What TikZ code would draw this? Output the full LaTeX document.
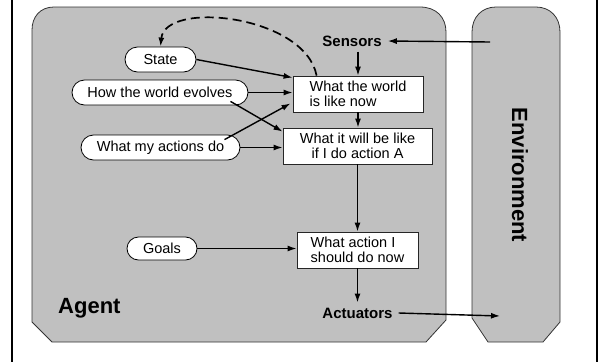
\documentclass[tikz,border=0pt]{standalone}
\usepackage{fontspec}
\setmainfont{Liberation Sans}
\usetikzlibrary{arrows.meta,calc,shapes.misc}
\definecolor{regiongray}{RGB}{192,192,192}
\begin{document}
\begin{tikzpicture}[x=1pt,y=-1pt,
  every node/.style={font=\fontsize{14.5}{15}\selectfont},
  pill/.style={rounded rectangle, draw=black, fill=white, line width=0.8pt, inner sep=0pt, minimum height=25pt},
  boxnode/.style={rectangle, draw=black!85, fill=white, line width=0.8pt, inner sep=0pt, minimum height=36pt},
  lbl/.style={font=\fontsize{15}{15}\selectfont\bfseries, inner xsep=6pt, inner ysep=5pt},
  biglbl/.style={font=\fontsize{22}{22}\selectfont\bfseries, inner sep=0pt},
  arr/.style={line width=1.4pt, -{Latex[length=9pt,width=6pt]}},
  region/.style={fill=regiongray, draw=black!80, line width=0.8pt},
  frame/.style={line width=2pt}
]
\useasboundingbox (0,0) rectangle (600,362);
\draw[frame] (12,0) -- (12,362);
\draw[frame] (597,0) -- (597,362);

% agent region
\draw[region] (32,322) -- (32,30) .. controls (32,17) and (40,7) .. (54,7) -- (420,7)
  .. controls (436,7) and (446,17) .. (446,32) -- (446,320) -- (426,342) -- (52,342) -- cycle;
% environment region
\draw[region] (472,318) -- (472,32) .. controls (472,17) and (482,7) .. (496,7) -- (536,7)
  .. controls (550,7) and (560,17) .. (560,32) -- (560,322) -- (543,342) -- (488,342) -- cycle;

\node[biglbl, rotate=-90] (env) at (520,175) {Environment};
\node[biglbl, anchor=base west] (agent) at (58,313) {Agent};

\node[lbl] (sensors) at (352,41) {Sensors};
\node[lbl] (actuators) at (357.5,313) {Actuators};

\node[boxnode, minimum width=130pt, align=left] (box1) at (358,94) {What the world\\is like now};
\node[boxnode, minimum width=149pt, align=center] (box2) at (357.5,146) {What it will be like\\if I do action A};
\node[boxnode, minimum width=121pt, align=left] (box3) at (357.5,250) {What action I\\should do now};

\node[pill, minimum width=71pt] (state) at (160.5,59.5) {State};
\node[pill, minimum width=176pt] (how) at (160,92.5) {How the world evolves};
\node[pill, minimum width=159pt] (act) at (160.5,147.5) {What my actions do};
\node[pill, minimum width=70pt, minimum height=23pt] (goals) at (162,248.5) {Goals};

\coordinate (envin) at (490,42);
\coordinate (envout) at (500,316);

\draw[arr] (envin) -- (sensors.east);
\draw[arr] (actuators.east) -- (envout);
\draw[arr] (sensors.south -| box1.north) -- (box1.north);
\draw[arr] (box1.south) -- (box1.south |- box2.north);
\draw[arr] (box2.south) -- (box2.south |- box3.north);
\draw[arr] (box3.south) -- (box3.south |- actuators.north);

\draw[arr] (state.east) -- ($(box1.north west)+(0,2)$);
\draw[arr] (how.east) -- (how.east -| box1.west);
\draw[arr] ($(how.south east)+(-5,-4)$) -- ($(box2.north west)+(0,4)$);
\draw[arr] ($(act.north east)+(-3,5)$) -- ($(box1.south west)+(-2,-9)$);
\draw[arr] (act.east) -- (act.east -| box2.west);
\draw[arr] (goals.east) -- (goals.east -| box3.west);

\draw[line width=1.7pt, dash pattern=on 9pt off 5pt, -{Latex[length=9pt,width=6pt]}]
  ($(box1.north west)+(24,0)$) .. controls (305,15) and (165,0) .. (state.north);
\end{tikzpicture}
\end{document}
